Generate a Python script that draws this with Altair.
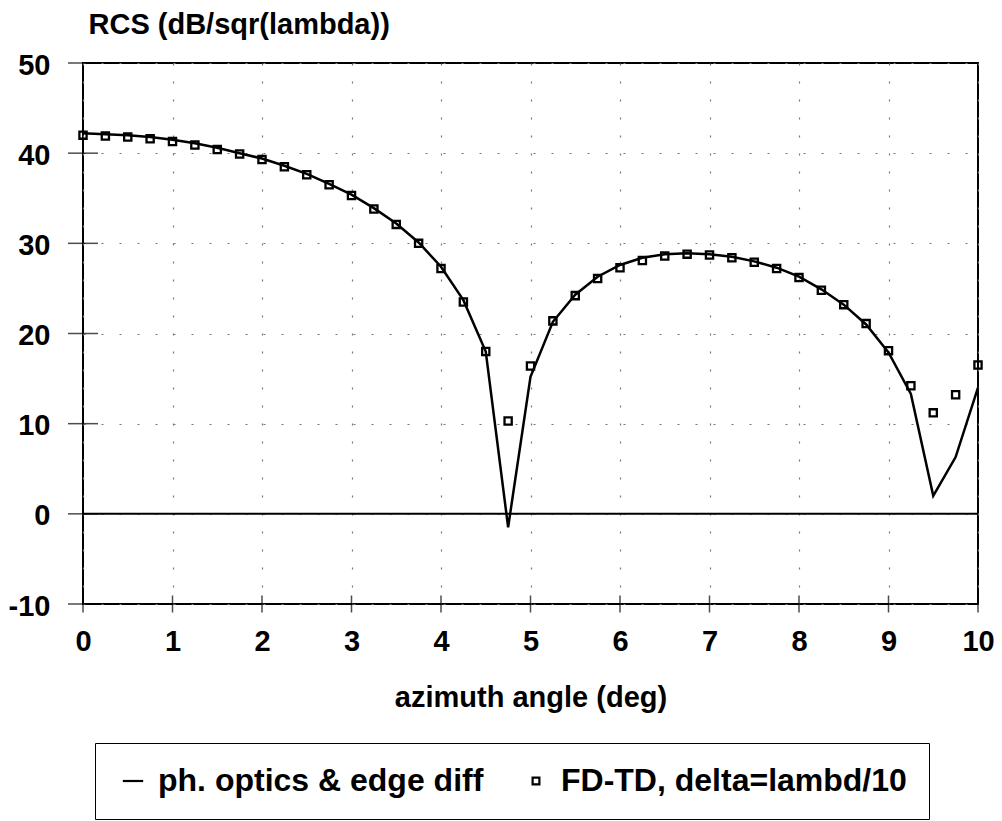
import altair as alt
import pandas as pd

# Azimuth samples (deg)
angles = [0.0, 0.25, 0.5, 0.75, 1.0, 1.25, 1.5, 1.75, 2.0, 2.25, 2.5, 2.75,
          3.0, 3.25, 3.5, 3.75, 4.0, 4.25, 4.5, 4.75, 5.0, 5.25, 5.5, 5.75,
          6.0, 6.25, 6.5, 6.75, 7.0, 7.25, 7.5, 7.75, 8.0, 8.25, 8.5, 8.75,
          9.0, 9.25, 9.5, 9.75, 10.0]

# Physical optics + edge diffraction prediction (dB/sqr(lambda))
po_edge = [42.2, 42.1, 42.0, 41.8, 41.5, 41.1, 40.6, 40.0, 39.4, 38.6, 37.7, 36.6,
           35.4, 33.9, 32.2, 30.1, 27.4, 23.7, 18.0, -1.5, 15.2, 21.3, 24.3, 26.3,
           27.6, 28.4, 28.8, 28.9, 28.8, 28.5, 28.0, 27.3, 26.3, 24.9, 23.2, 21.0,
           17.9, 13.3, 2.0, 6.3, 14.0]

# FD-TD result, cell size lambda/10
fdtd = [42.0, 41.9, 41.8, 41.6, 41.3, 40.9, 40.4, 39.9, 39.3, 38.5, 37.6, 36.5,
        35.3, 33.8, 32.1, 30.0, 27.2, 23.5, 18.0, 10.3, 16.4, 21.4, 24.2, 26.1,
        27.3, 28.1, 28.6, 28.8, 28.7, 28.4, 27.9, 27.2, 26.2, 24.8, 23.2, 21.1,
        18.1, 14.2, 11.2, 13.2, 16.5]

series_names = ["ph. optics & edge diff", "FD-TD, delta=lambd/10"]

x_ticks = [0, 1, 2, 3, 4, 5, 6, 7, 8, 9, 10]
y_ticks = [-10, 0, 10, 20, 30, 40, 50]

df = pd.DataFrame({
    "angle": angles + angles,
    "rcs": po_edge + fdtd,
    "series": [series_names[0]] * len(angles) + [series_names[1]] * len(angles),
})

FONT = "Liberation Sans"

x_enc = alt.X(
    "angle:Q",
    scale=alt.Scale(domain=[0, 10], nice=False, zero=False),
    axis=alt.Axis(
        values=x_ticks,
        title="azimuth angle (deg)",
        labelExpr="'' + datum.value",
        labelBaseline="middle",
        labelPadding=37,
        labelFlush=False,
        titleBaseline="alphabetic",
        titleY=102,
    ),
)
y_enc = alt.Y(
    "rcs:Q",
    scale=alt.Scale(domain=[-10, 50], nice=False, zero=False),
    axis=alt.Axis(
        values=y_ticks,
        title="RCS (dB/sqr(lambda))",
        labelExpr="'' + datum.value",
        labelAlign="right",
        labelBaseline="middle",
        labelPadding=33,
        labelFlush=False,
        labelOffset=2,
        titleAngle=0,
        titleAlign="left",
        titleBaseline="alphabetic",
        titleX=5,
        titleY=-30,
    ),
)

# Zero reference line
zero_df = pd.DataFrame({"rcs": [0]})
zero_line = alt.Chart(zero_df).mark_rule(color="black", strokeWidth=2).encode(y=y_enc)

# Cross-shaped tick marks along the axes
xt_df = pd.DataFrame({"angle": x_ticks, "rcs": [-10] * len(x_ticks)})
yt_df = pd.DataFrame({"angle": [0] * len(y_ticks), "rcs": y_ticks})
x_tick_marks = alt.Chart(xt_df).mark_tick(
    orient="vertical", size=17, thickness=1.5, color="black"
).encode(x=x_enc, y=y_enc)
y_tick_marks = alt.Chart(yt_df).mark_tick(
    orient="horizontal", size=30, thickness=1.5, color="black"
).encode(x=x_enc, y=y_enc)

line = alt.Chart(df).transform_filter(
    alt.datum.series == series_names[0]
).mark_line(color="black", strokeWidth=2.5).encode(x=x_enc, y=y_enc)

points = alt.Chart(df).transform_filter(
    alt.datum.series == series_names[1]
).mark_point(
    filled=False, color="black", strokeWidth=2.3, size=52, opacity=1
).encode(
    x=x_enc,
    y=y_enc,
    shape=alt.Shape(
        "series:N",
        scale=alt.Scale(domain=series_names, range=["M-3,0L3,0", "square"]),
        legend=alt.Legend(
            title=None,
            orient="none",
            legendX=12,
            legendY=680,
            direction="horizontal",
            strokeColor="black",
            fillColor="white",
            padding=22,
            labelFont=FONT,
            labelFontSize=32,
            labelFontWeight="bold",
            labelColor="black",
            labelLimit=600,
            labelOffset=9,
            columnPadding=36,
            symbolSize=46,
            symbolStrokeWidth=2.2,
            symbolStrokeColor="black",
            symbolOpacity=1,
        ),
    ),
)

chart = alt.layer(zero_line, x_tick_marks, y_tick_marks, line, points).properties(
    width=895,
    height=541,
    autosize=alt.AutoSizeParams(type="none"),
    padding={"left": 83, "top": 63, "right": 24, "bottom": 217},
    background="white",
).configure_view(
    stroke="black", strokeWidth=2
).configure_axis(
    domain=False,
    ticks=False,
    tickSize=0,
    grid=True,
    gridColor="#777777",
    gridDash=[2, 16],
    gridWidth=1.2,
    labelFont=FONT,
    labelFontSize=29,
    labelFontWeight="bold",
    labelColor="black",
    titleFont=FONT,
    titleFontSize=29,
    titleFontWeight="bold",
    titleColor="black",
)

chart.save("out.html", embed_options={"renderer": "svg", "actions": False})
